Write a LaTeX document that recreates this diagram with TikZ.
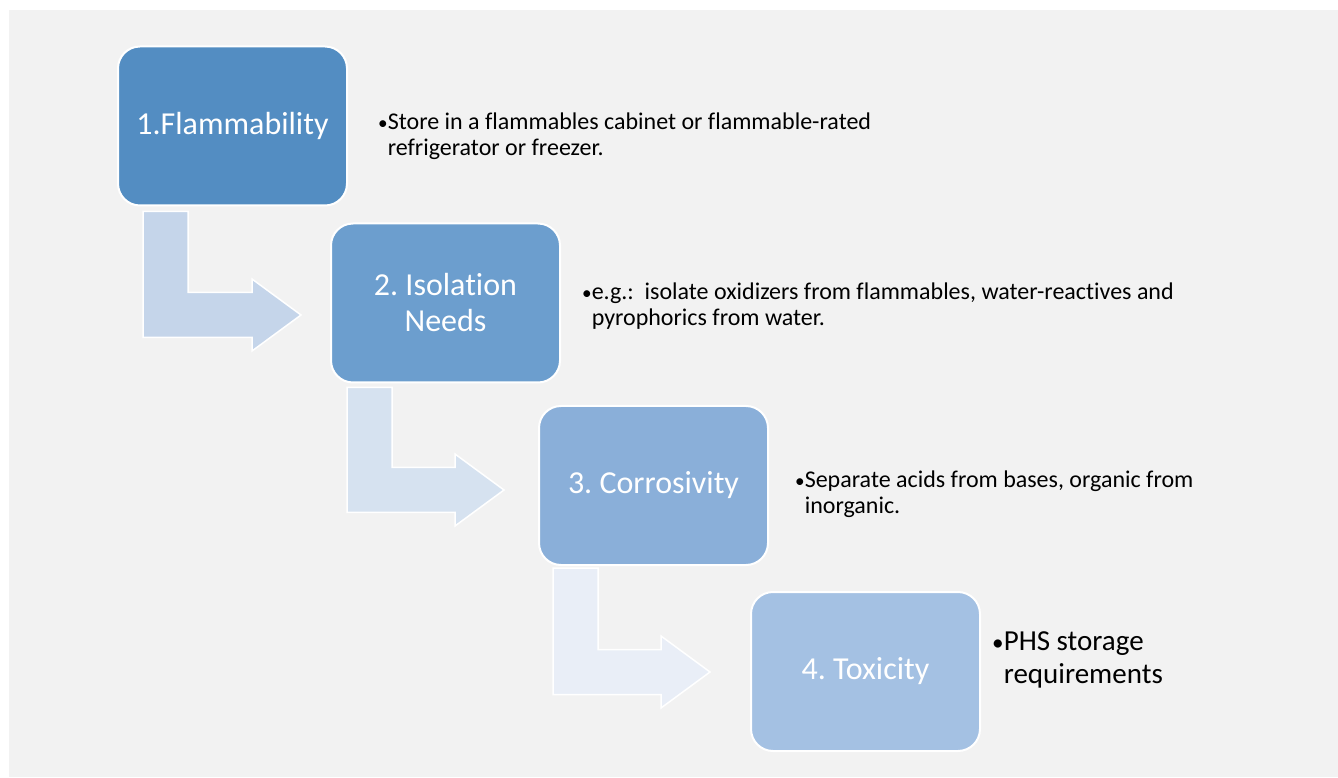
\documentclass[tikz,border=0pt]{standalone}
\usepackage{fontspec}
\setmainfont{Carlito}[Ligatures=NoCommon]
\usetikzlibrary{calc}
\frenchspacing

\definecolor{bggray}{HTML}{F2F2F2}
\definecolor{boxA}{HTML}{538DC2}
\definecolor{boxB}{HTML}{6C9ECE}
\definecolor{boxC}{HTML}{8AAFD9}
\definecolor{boxD}{HTML}{A4C1E3}
\definecolor{arrA}{HTML}{C5D5EA}
\definecolor{arrB}{HTML}{D6E2F0}
\definecolor{arrC}{HTML}{E9EEF7}

\tikzset{
  stepbox/.style={draw=white, line width=2pt, rounded corners=22pt,
    minimum width=229pt, minimum height=159pt, text=white, align=center,
    font=\fontsize{32}{36}\selectfont},
  desc/.style={anchor=west, inner sep=0pt, align=left,
    font=\fontsize{24}{26}\selectfont},
  bent/.style={draw=white, line width=1.5pt}
}

% bent arrow: top left corner of the stem, then the tip
\newcommand{\bentarrow}[3]{%
  \draw[bent, #3] let \p1=#1, \p2=#2 in
    (\x1,\y1) -- (\x1+45pt,\y1) -- (\x1+45pt,\y2+22.5pt)
    -- (\x2-49pt,\y2+22.5pt) -- (\x2-49pt,\y2+36pt) -- (\x2,\y2)
    -- (\x2-49pt,\y2-36pt) -- (\x2-49pt,\y2-22.5pt)
    -- (\x1,\y2-22.5pt) -- cycle;}
\newcommand{\bul}{{\scalebox{0.8}{•}}}

\begin{document}
\begin{tikzpicture}[x=1pt,y=1pt]
  \useasboundingbox (0,0) rectangle (1338,777);
  \fill[bggray] (9,0) rectangle (1338,767);

  \node[stepbox, fill=boxA] (flam) at (232.5,651) {1.Flammability};
  \node[stepbox, fill=boxB] (iso)  at (445.5,474) {2. Isolation\\Needs};
  \node[stepbox, fill=boxC] (corr) at (653.5,291.5) {3. Corrosivity};
  \node[stepbox, fill=boxD] (tox)  at (865.5,105.5) {4. Toxicity};

  \bentarrow{($(flam.south west)+(26,-5)$)}{($(iso.west)+(-29,-12)$)}{fill=arrA}
  \bentarrow{($(iso.south west)+(17,-4)$)}{($(corr.west)+(-34,-4.5)$)}{fill=arrB}
  \bentarrow{($(corr.south west)+(15,-2)$)}{($(tox.west)+(-40,-0.5)$)}{fill=arrC}

  \node[desc] (flamtxt) at (378,641)
    {\bul Store in a flammables cabinet or flammable-rated\\\phantom{\bul}refrigerator or freezer.};
  \node[desc] (isotxt) at (582,471)
    {\bul e.g.:\ \ isolate oxidizers from flammables, water-reactives and\\\phantom{\bul}pyrophorics from water.};
  \node[desc] (corrtxt) at (795,283)
    {\bul Separate acids from bases, organic from\\\phantom{\bul}inorganic.};
  \node[desc, font=\fontsize{29}{33}\selectfont] (toxtxt) at (992,117)
    {\bul PHS storage\\\phantom{\bul}requirements};
\end{tikzpicture}
\end{document}
